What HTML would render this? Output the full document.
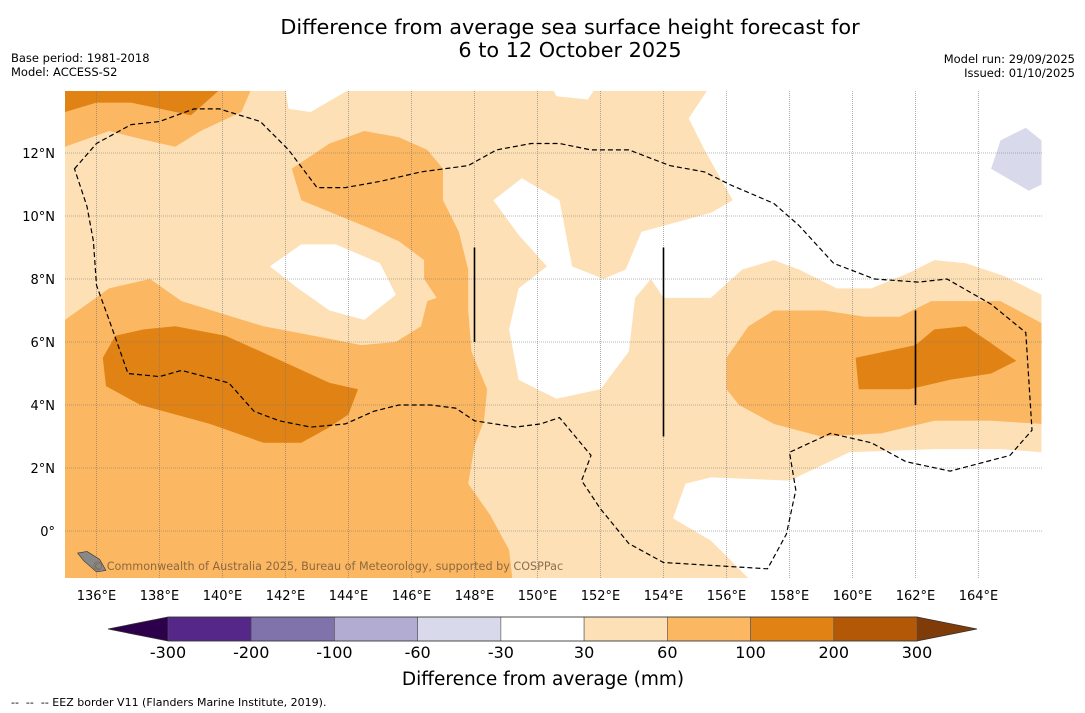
<!DOCTYPE html>
<html><head><meta charset="utf-8"><style>
html,body{margin:0;padding:0;background:#fff;}
svg{display:block;font-family:"DejaVu Sans","Liberation Sans",sans-serif;}
</style></head><body>
<svg id="chart" width="1085" height="713" viewBox="0 0 1085 713">
<defs><clipPath id="mapclip"><rect x="65" y="91" width="977" height="487"/></clipPath></defs>
<text x="570" y="34" font-size="20.8" text-anchor="middle">Difference from average sea surface height forecast for</text>
<text x="570" y="57" font-size="20.8" text-anchor="middle">6 to 12 October 2025</text>
<text x="11" y="62" font-size="11.5">Base period: 1981-2018</text>
<text x="11" y="76" font-size="11.5">Model: ACCESS-S2</text>
<text x="1075" y="63" font-size="11.5" text-anchor="end">Model run: 29/09/2025</text>
<text x="1075" y="77" font-size="11.5" text-anchor="end">Issued: 01/10/2025</text>
<g id="map" clip-path="url(#mapclip)"></g>
<g id="axes"></g>
<g id="cbar"></g>
<text x="543" y="685" font-size="18.5" text-anchor="middle">Difference from average (mm)</text>
<text x="11" y="706" font-size="11" xml:space="preserve">--  --  -- EEZ border V11 (Flanders Marine Institute, 2019).</text>
</svg>
<script>
const lonTicks=[136,138,140,142,144,146,148,150,152,154,156,158,160,162,164];
const latTicks=[0,2,4,6,8,10,12];
const cbarLevels=[-300,-200,-100,-60,-30,30,60,100,200,300];
const cbarColors=["#542788","#8073ac","#b2abd2","#d8daeb","#ffffff","#fde0b6","#fbb761","#e08214","#b35806"];
const lightLon=[135,166,166,135];const lightLat=[14,14,-1.5,-1.5];
const whiteNELon=[155.4,154.8,155.3,156.2,155.5,153.3,152.8,152.1,151.1,150.7,149.5,148.6,149.4,150.3,149.4,149.1,149.4,150.6,152,152.9,153.1,153.6,154,155.5,156.5,157.5,158.3,159.5,160.6,161.8,162.6,163.6,164.8,166,166];
const whiteNELat=[14,13.1,12.1,10.5,10.1,9.5,8.3,8.0,8.4,10.5,11.2,10.5,9.4,8.4,7.7,6.4,4.8,4.2,4.5,5.7,7.4,8.0,7.4,7.4,8.3,8.6,8.3,7.7,7.7,8.2,8.6,8.5,8.1,7.5,14];
const lavLon=[164.4,164.7,165.5,166,166,165.6];const lavLat=[11.5,12.4,12.8,12.4,11,10.8];
const whiteWLon=[141.5,142.5,143.6,145,145.5,144.5,143.4,142.4];const whiteWLat=[8.4,9.1,9.1,8.5,7.5,6.7,7.0,7.7];
const whiteSLon=[154.3,154.7,155.5,158,159.9,162.6,164.7,166,166,156.7,155.5];const whiteSLat=[0.4,1.5,1.7,1.6,2.5,2.6,2.6,2.5,-1.5,-1.5,-0.3];
const whiteT1Lon=[142,142.1,142.8,144];const whiteT1Lat=[14,13.4,13.3,14];
const whiteT2Lon=[150.5,150.6,151.6,151.8];const whiteT2Lat=[14,13.8,13.7,14];
const midWLon=[135,136.4,137.7,138.7,141.3,143.4,144.4,145.5,146.3,146.5,146.8,146.4,146.4,145.6,144.7,142.5,142.2,143.4,144.5,145.6,146.5,147,147,147.5,147.8,147.8,147.9,148.4,148.3,148,147.8,148.5,149.1,149.2,135];
const midWLat=[6.7,7.7,8,7.3,6.5,6.1,5.9,6,6.5,7.3,7.4,8,8.6,9.2,9.6,10.5,11.5,12.3,12.7,12.5,12.1,11.5,10.5,9.5,8.3,7,5.7,4.5,3.5,2.7,1.5,0.5,-0.6,-1.5,-1.5];
const midNWLon=[135,140.9,140.6,139.3,138.5,137.6,136.4,135];const midNWLat=[14,14,13.3,12.7,12.2,12.4,12.7,12.2];
const midELon=[156,156.7,157.5,159.1,160.4,161.5,162.5,164.7,166,166,164.4,162.6,160.9,159,157.5,156.4,156];
const midELat=[5.5,6.5,7,7,6.8,6.8,7.3,7.3,6.6,3.4,3.5,3.5,3.1,3,3.4,4,4.5];
const darkNWLon=[135,139.9,139,137.1,136,135];const darkNWLat=[14,14,13.2,13.6,13.6,13.3];
const darkWLon=[136.2,136.6,137.5,138.5,140.1,142.1,143.4,144.3,144,143.4,142.5,141.3,139.6,137.4,136.3];
const darkWLat=[5.5,6.2,6.4,6.5,6.2,5.3,4.7,4.5,3.7,3.3,2.8,2.8,3.4,4,4.6];
const darkELon=[160.1,162,162.6,163.6,164.2,165.2,164.4,163.1,161.8,160.2];const darkELat=[5.5,5.9,6.4,6.5,6.1,5.4,5,4.8,4.5,4.5];
const eezLon=[135.3,136,137.1,138,139.1,139.9,141.2,142.1,143,143.9,145,146.3,147.8,148.7,149.8,150.7,151.7,152.9,154.2,155.3,156.1,157.5,158.3,159.4,160.7,162.1,163,164.4,165.5,165.7,165,163.1,161.7,160.6,159.3,158,158.2,157.9,157.3,154,152.9,152,151.4,151.7,151.2,150.7,150.1,149.3,148,147.4,146.6,145.6,144.8,143.9,142.8,141.8,141,140.2,138.7,138,137,136.4,136,135.9,135.7];
const eezLat=[11.5,12.3,12.9,13,13.4,13.4,13,12.1,10.9,10.9,11.1,11.4,11.6,12.1,12.3,12.3,12.1,12.1,11.6,11.4,11,10.4,9.7,8.5,8,7.9,8,7.2,6.3,3.2,2.4,1.9,2.2,2.8,3.1,2.5,1.3,-0.1,-1.2,-1,-0.4,0.7,1.6,2.4,3,3.6,3.4,3.3,3.5,3.9,4,4,3.8,3.4,3.3,3.5,3.8,4.7,5.1,4.9,5,6.7,7.8,9.2,10.3];
const barLon=[148,154,162];const barLatTop=[9,9,7];const barLatBot=[6,3,4];
const islandLon=[135.4,135.7,136.1,136.3,136.0,135.6];const islandLat=[-0.7,-0.65,-0.9,-1.25,-1.3,-0.95];

const NS='http://www.w3.org/2000/svg';
const X=lon=>65+(lon-135)*31.5;
const Y=lat=>531-lat*31.5;
const map=document.getElementById('map'),axes=document.getElementById('axes'),cbar=document.getElementById('cbar');
function mk(tag,attrs,parent){const e=document.createElementNS(NS,tag);for(const k in attrs)e.setAttribute(k,attrs[k]);parent.appendChild(e);return e;}
function poly(lons,lats,fill,name){
 const pts=lons.map((l,i)=>X(l).toFixed(1)+','+Y(lats[i]).toFixed(1)).join(' ');
 const p=mk('polygon',{points:pts,fill:fill},map);
 
 
}
poly(lightLon,lightLat,cbarColors[5],'contour-30-60');
poly(whiteNELon,whiteNELat,'#ffffff','contour-neutral-northeast');
poly(lavLon,lavLat,cbarColors[3],'contour-minus60-minus30');
poly(whiteWLon,whiteWLat,'#ffffff','contour-neutral-west');
poly(whiteSLon,whiteSLat,'#ffffff','contour-neutral-south');
poly(whiteT1Lon,whiteT1Lat,'#ffffff','contour-neutral-top1');
poly(whiteT2Lon,whiteT2Lat,'#ffffff','contour-neutral-top2');
poly(midWLon,midWLat,cbarColors[6],'contour-60-100-west');
poly(midNWLon,midNWLat,cbarColors[6],'contour-60-100-northwest');
poly(midELon,midELat,cbarColors[6],'contour-60-100-east');
poly(darkNWLon,darkNWLat,cbarColors[7],'contour-100-200-northwest');
poly(darkWLon,darkWLat,cbarColors[7],'contour-100-200-west');
poly(darkELon,darkELat,cbarColors[7],'contour-100-200-east');
lonTicks.forEach(l=>{const g=mk('line',{x1:X(l),x2:X(l),y1:91,y2:578,stroke:'#777','stroke-width':0.6,'stroke-dasharray':'1,1'},map);
 
 });
latTicks.forEach(l=>{const g=mk('line',{x1:65,x2:1042,y1:Y(l),y2:Y(l),stroke:'#777','stroke-width':0.6,'stroke-dasharray':'1,1'},map);
 
 });
const isl=mk('polygon',{points:islandLon.map((l,i)=>X(l)+','+Y(islandLat[i])).join(' '),fill:'#888',stroke:'#333','stroke-width':0.6},map);


const eez=mk('polygon',{points:eezLon.map((l,i)=>X(l).toFixed(1)+','+Y(eezLat[i]).toFixed(1)).join(' '),fill:'none',stroke:'#000','stroke-width':1.2,'stroke-dasharray':'5,3'},map);


barLon.forEach((l,i)=>{const b=mk('line',{x1:X(l),x2:X(l),y1:Y(barLatTop[i]),y2:Y(barLatBot[i]),stroke:'#000','stroke-width':1.6},map);
 
 });
const cp=mk('text',{x:92,y:570,'font-size':11.2,fill:'#7a5a3a','fill-opacity':0.85},map);
cp.textContent='© Commonwealth of Australia 2025, Bureau of Meteorology, supported by COSPPac';


lonTicks.forEach(l=>{const t=mk('text',{x:X(l),y:600,'font-size':13,'text-anchor':'middle'},axes);t.textContent=l+'°E';
 
 });
latTicks.forEach(l=>{const t=mk('text',{x:55,y:Y(l)+5,'font-size':13,'text-anchor':'end'},axes);t.textContent=l===0?'0°':l+'°N';
 
 });
const cx0=168,cx1=917,cy=617,ch=24,n=cbarColors.length,w=(cx1-cx0)/n;
const lt=mk('polygon',{points:`108,${cy+ch/2} ${cx0},${cy} ${cx0},${cy+ch}`,fill:'#2d004b'},cbar);


const rt=mk('polygon',{points:`977,${cy+ch/2} ${cx1},${cy} ${cx1},${cy+ch}`,fill:'#7f3b08'},cbar);


cbarColors.forEach((c,i)=>{const r=mk('rect',{x:cx0+i*w,y:cy,width:w,height:ch,fill:c,stroke:'#555','stroke-width':0.6},cbar);
 
 });
mk('polygon',{points:`108,${cy+ch/2} ${cx0},${cy} ${cx1},${cy} 977,${cy+ch/2} ${cx1},${cy+ch} ${cx0},${cy+ch}`,fill:'none',stroke:'#333','stroke-width':0.8},cbar);
cbarLevels.forEach((v,i)=>{const t=mk('text',{x:cx0+i*w,y:658,'font-size':16,'text-anchor':'middle'},cbar);t.textContent=v;
 
 });
</script>
</body></html>
